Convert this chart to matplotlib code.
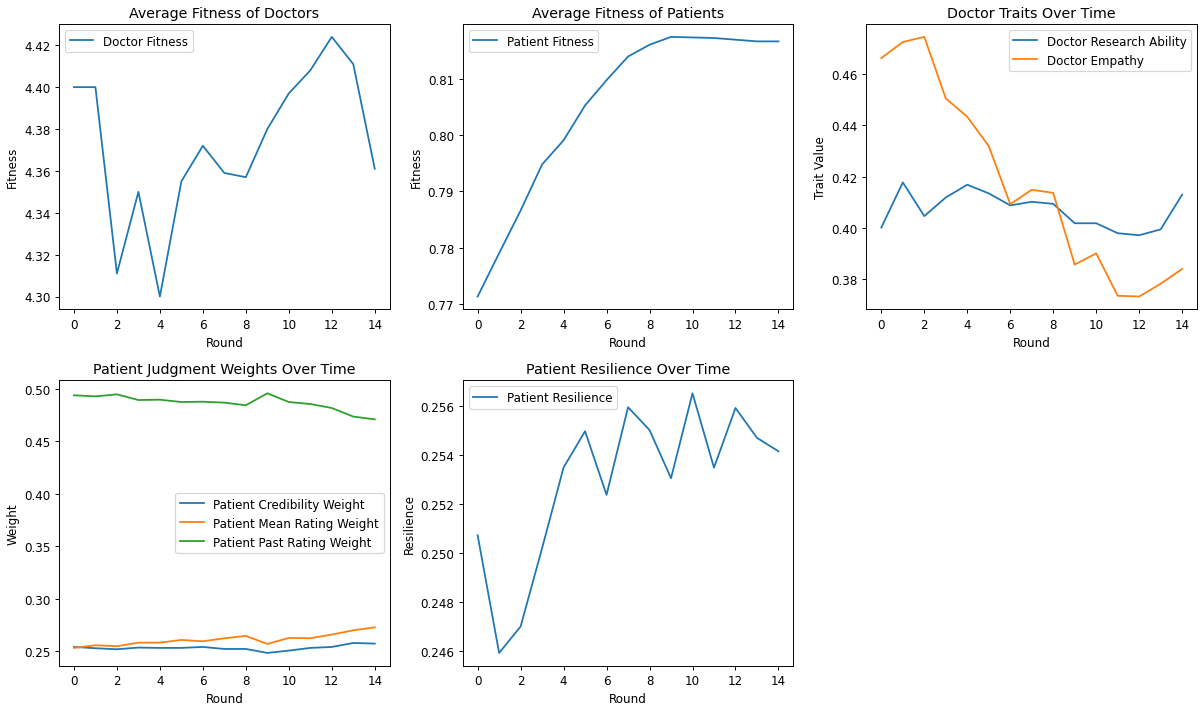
import matplotlib
matplotlib.use("Agg")
import matplotlib.pyplot as plt

rounds = list(range(15))

doctor_fitness = [4.400, 4.400, 4.311, 4.350, 4.300, 4.355, 4.372, 4.359, 4.357,
                  4.380, 4.397, 4.408, 4.424, 4.411, 4.361]
patient_fitness = [0.7713, 0.7790, 0.7866, 0.7948, 0.7991, 0.8053, 0.8098, 0.8140,
                   0.8161, 0.8175, 0.8174, 0.8173, 0.8170, 0.8167, 0.8167]

research_ability = [0.4000, 0.4177, 0.4045, 0.4118, 0.4168, 0.4134, 0.4087, 0.4101,
                    0.4093, 0.4017, 0.4017, 0.3978, 0.3970, 0.3993, 0.4129]
empathy = [0.4664, 0.4727, 0.4747, 0.4506, 0.4434, 0.4319, 0.4092, 0.4148,
           0.4136, 0.3855, 0.3899, 0.3733, 0.3730, 0.3780, 0.3838]

cred_weight = [0.2541, 0.2529, 0.2519, 0.2535, 0.2532, 0.2532, 0.2541, 0.2522,
               0.2522, 0.2484, 0.2506, 0.2532, 0.2541, 0.2579, 0.2573]
mean_rating_weight = [0.2532, 0.2557, 0.2548, 0.2582, 0.2582, 0.2608, 0.2595, 0.2624,
                      0.2646, 0.2570, 0.2627, 0.2624, 0.2659, 0.2700, 0.2728]
past_rating_weight = [0.4940, 0.4930, 0.4949, 0.4895, 0.4898, 0.4876, 0.4879, 0.4870,
                      0.4845, 0.4959, 0.4876, 0.4857, 0.4819, 0.4737, 0.4711]

resilience = [0.25073, 0.24592, 0.24700, 0.25020, 0.25350, 0.25498, 0.25238, 0.25596,
              0.25503, 0.25306, 0.25653, 0.25349, 0.25593, 0.25471, 0.25416]

xticks = list(range(0, 15, 2))

# the original looks like a 14in wide figure scaled down to 1202 px
plt.figure(figsize=(14, 8.281), dpi=85.857)

plt.subplot(2, 3, 1)
plt.plot(rounds, doctor_fitness, label="Doctor Fitness")
plt.title("Average Fitness of Doctors")
plt.xlabel("Round")
plt.ylabel("Fitness")
plt.xticks(xticks)
plt.legend(loc="upper left")

plt.subplot(2, 3, 2)
plt.plot(rounds, patient_fitness, label="Patient Fitness")
plt.title("Average Fitness of Patients")
plt.xlabel("Round")
plt.ylabel("Fitness")
plt.xticks(xticks)
plt.legend(loc="upper left")

plt.subplot(2, 3, 3)
plt.plot(rounds, research_ability, label="Doctor Research Ability")
plt.plot(rounds, empathy, label="Doctor Empathy")
plt.title("Doctor Traits Over Time")
plt.xlabel("Round")
plt.ylabel("Trait Value")
plt.xticks(xticks)
plt.legend(loc="upper right")

plt.subplot(2, 3, 4)
plt.plot(rounds, cred_weight, label="Patient Credibility Weight")
plt.plot(rounds, mean_rating_weight, label="Patient Mean Rating Weight")
plt.plot(rounds, past_rating_weight, label="Patient Past Rating Weight")
plt.title("Patient Judgment Weights Over Time")
plt.xlabel("Round")
plt.ylabel("Weight")
plt.xticks(xticks)
plt.legend(loc="center right")

plt.subplot(2, 3, 5)
plt.plot(rounds, resilience, label="Patient Resilience")
plt.title("Patient Resilience Over Time")
plt.xlabel("Round")
plt.ylabel("Resilience")
plt.xticks(xticks)
plt.legend(loc="upper left")

plt.subplots_adjust(left=0.049, right=0.996, top=0.965, bottom=0.062,
                    wspace=0.22, hspace=0.248)
plt.savefig("out.png")
